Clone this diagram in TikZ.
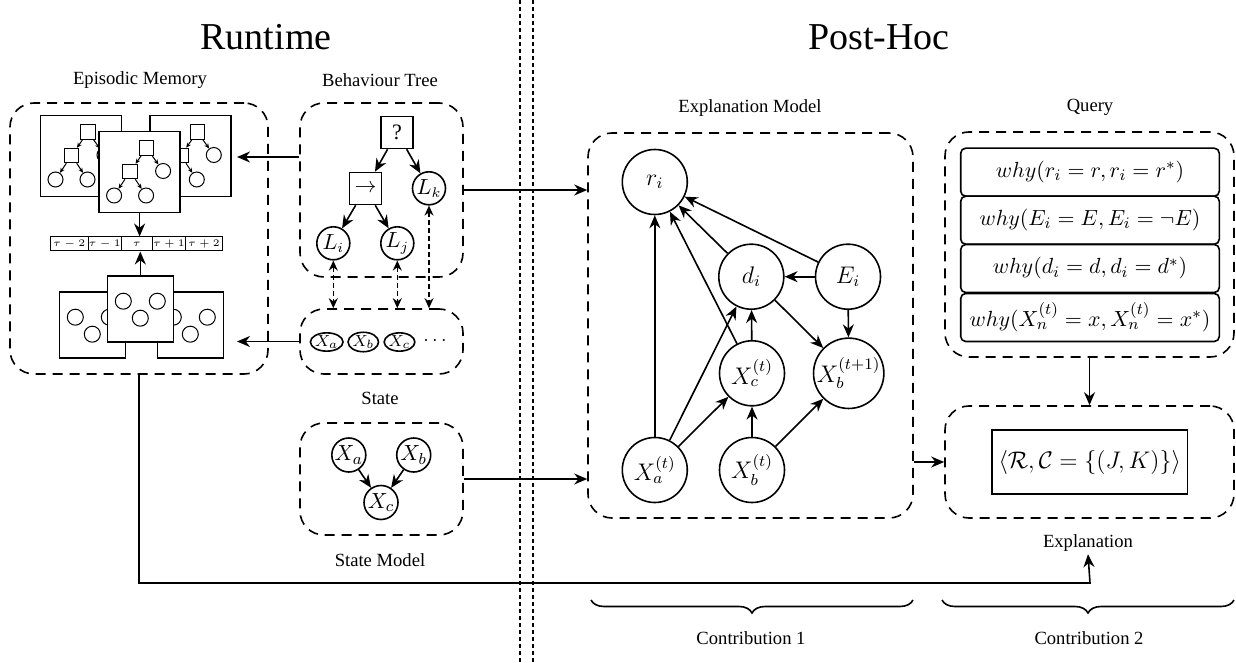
\documentclass[tikz,border=0pt]{standalone}
\usepackage{amsmath, amssymb}
\usepackage{fontspec}
\setmainfont{Liberation Serif}
\usetikzlibrary{arrows.meta, shapes.geometric, fit, decorations.pathreplacing}

\begin{document}
\begin{tikzpicture}
		[x=0.5pt, y=-0.5pt, line width=0.8pt,
		%Styles
		region/.style={draw, dash pattern=on 5pt off 3.5pt, rounded corners=12pt, inner sep=0pt},
		title text/.style={font=\fontsize{19}{22}\selectfont},
		caption text/.style={font=\fontsize{9.3}{11}\selectfont, inner sep=1pt},
		link/.style={-{Stealth[length=6.5pt,width=5.5pt]}},
		bind/.style={{Stealth[length=5pt,width=4.5pt]}-{Stealth[length=5pt,width=4.5pt]}, dash pattern=on 2.5pt off 1.5pt},
		var node/.style={circle, draw, minimum size=32.5pt, inner sep=0pt, font=\fontsize{12}{14}\selectfont},
		leaf node/.style={circle, draw, minimum size=16.5pt, inner sep=0pt, font=\fontsize{10.5}{12}\selectfont},
		control node/.style={rectangle, draw, minimum size=16pt, inner sep=0pt, font=\fontsize{11}{12}\selectfont},
		state var/.style={ellipse, draw, minimum width=15pt, minimum height=9pt, inner sep=0pt, font=\fontsize{8}{9}\selectfont},
		model var/.style={circle, draw, minimum size=17pt, inner sep=0pt, font=\fontsize{11}{13}\selectfont},
		query row/.style={draw, rounded corners=2.5pt, minimum width=129.3pt, minimum height=24pt, inner sep=0pt, font=\fontsize{11}{13}\selectfont},
		snapshot/.style={draw, fill=white, inner sep=0pt},
		time cell/.style={draw, line width=0.5pt, minimum height=7pt, inner sep=0pt, font=\fontsize{5}{6}\selectfont},
		mini box/.style={draw, line width=0.5pt, minimum size=7.25pt, inner sep=0pt},
		mini leaf/.style={circle, draw, line width=0.5pt, minimum size=7.5pt, inner sep=0pt},
		mini link/.style={-{Stealth[length=2.5pt,width=2.2pt]}, line width=0.5pt},
		mini tree/.pic={
			\node[mini box] (root) at (7,-24) {};
			\node[mini box] (seq) at (-9.5,-0.5) {};
			\node[mini leaf] (kid) at (23.5,-1) {};
			\node[mini leaf] (lft) at (-25.5,23.5) {};
			\node[mini leaf] (rgt) at (6.5,23.5) {};
			\draw[mini link] (root) -- (seq);
			\draw[mini link] (root) -- (kid);
			\draw[mini link] (seq) -- (lft);
			\draw[mini link] (seq) -- (rgt);
		},
		state snap/.pic={
			\node[mini leaf, minimum size=8pt] at (-17,-7.5) {};
			\node[mini leaf, minimum size=8pt] at (17,-7.5) {};
			\node[mini leaf, minimum size=8pt] at (0,9.5) {};
		}
		]
		
		\useasboundingbox (0,0) rectangle (1236,663);
		
		%Titles and separator
		\node[title text] (runtime) at (266,37) {Runtime};
		\node[title text] (posthoc) at (879,37) {Post-Hoc};
		\draw[dash pattern=on 2pt off 1.5pt, line width=0.7pt] (520,0) -- (520,663);
		\draw[dash pattern=on 2pt off 1.5pt, line width=0.7pt] (533,0) -- (533,663);
		
		%Regions
		\node[region, fit={(10,103) (268,374)}] (epmem) {};
		\node[region, fit={(300,103) (463,277)}] (bt) {};
		\node[region, fit={(300,309) (463,374)}] (state) {};
		\node[region, fit={(300,423) (463,535)}] (smodel) {};
		\node[region, fit={(588,133) (913,518)}] (xmodel) {};
		\node[region, fit={(945,132) (1234,357)}] (query) {};
		\node[region, fit={(945,406) (1234,518)}] (expl) {};
		
		\node[caption text] (eplbl) at (140,80) {Episodic Memory};
		\node[caption text] (btlbl) at (380,80) {Behaviour Tree};
		\node[caption text] (statelbl) at (380,398) {State};
		\node[caption text] (smlbl) at (380,560) {State Model};
		\node[caption text] (xmlbl) at (750,108) {Explanation Model};
		\node[caption text] (querylbl) at (1090,107) {Query};
		\node[caption text] (expllbl) at (1088,543) {Explanation};
		
		%Episodic memory
		\node[snapshot, minimum size=40.5pt] (bt1) at (81,156) {};
		\pic at (bt1) {mini tree};
		\node[snapshot, minimum size=40.5pt] (bt2) at (190.3,156) {};
		\pic at (bt2) {mini tree};
		\node[snapshot, minimum size=40.5pt] (bt3) at (139.6,172) {};
		\pic at (bt3) {mini tree};
		
		\foreach \cx/\w/\lbl [count=\i] in {69.15/19.15/{\tau-2}, 104.65/16.35/{\tau-1}, 136.85/15.85/{\tau}, 168.85/16.15/{\tau+1}, 203.85/18.85/{\tau+2}}
			\node[time cell, minimum width=\w pt] (cell\i) at (\cx,244) {$\lbl$};
		
		\node[snapshot, minimum size=33pt] (st1) at (92.3,324.7) {};
		\pic at (st1) {state snap};
		\node[snapshot, minimum size=33pt] (st2) at (190.3,324.7) {};
		\pic at (st2) {state snap};
		\node[snapshot, minimum size=33pt] (st3) at (140.3,308.7) {};
		\pic at (st3) {state snap};
		
		\draw[link] (bt3.south) -- (bt3.south |- cell3.north);
		\draw[link] (st3.north) -- (st3.north |- cell3.south);
		
		%Behaviour tree
		\node[control node] (sel) at (397,132.5) {?};
		\node[control node] (seq) at (365.5,188.5) {$\rightarrow$};
		\node[leaf node] (lk) at (429,188.3) {$L_k$};
		\node[leaf node] (li) at (333.3,243.3) {$L_i$};
		\node[leaf node] (lj) at (397.3,243.3) {$L_j$};
		\draw[link] (sel) -- (seq);
		\draw[link] (sel) -- (lk);
		\draw[link] (seq) -- (li);
		\draw[link] (seq) -- (lj);
		
		%State
		\node[state var] (sxa) at (326.7,342) {$X_a$};
		\node[state var] (sxb) at (363.3,342) {$X_b$};
		\node[state var] (sxc) at (399.5,342) {$X_c$};
		\node[font=\fontsize{10}{12}\selectfont] (sdots) at (436.7,341) {$\cdots$};
		\draw[bind] (li) -- (li |- state.north);
		\draw[bind] (lj) -- (lj |- state.north);
		\draw[bind] (lk) -- (lk |- state.north);
		
		%State model
		\node[model var] (mxa) at (348.8,455) {$X_a$};
		\node[model var] (mxb) at (413.7,455) {$X_b$};
		\node[model var] (mxc) at (381,502.5) {$X_c$};
		\draw[link] (mxa) -- (mxc);
		\draw[link] (mxb) -- (mxc);
		
		%Explanation model
		\node[var node] (r) at (654.8,182) {$r_i$};
		\node[var node] (d) at (751.3,276.7) {$d_i$};
		\node[var node] (e) at (848,276.7) {$E_i$};
		\node[var node] (xc) at (752,373.3) {$X_c^{(t)}$};
		\node[var node] (xb1) at (848.7,373.3) {$X_b^{(t+1)}$};
		\node[var node] (xa) at (654.8,470) {$X_a^{(t)}$};
		\node[var node] (xb) at (752,470) {$X_b^{(t)}$};
		\foreach \a/\b in {xa/r, xa/d, xa/xc, xc/r, xc/d, d/r, e/r, e/d, e/xb1, d/xb1, xb/xc, xb/xb1}
			\draw[link] (\a) -- (\b);
		
		%Query and explanation
		\foreach \y/\q [count=\i] in {172.2/{why(r_i=r,r_i=r^*)}, 220.2/{why(E_i=E,E_i=\neg E)}, 268.5/{why(d_i=d,d_i=d^*)}, 317.5/{why(X_n^{(t)}=x,X_n^{(t)}=x^*)}}
			\node[query row] (q\i) at (1090,\y) {$\q$};
		\node[draw, minimum width=97pt, minimum height=32pt, font=\fontsize{11.5}{13}\selectfont] (answer) at (1089.7,462) {$\langle\mathcal{R},\mathcal{C}=\{(J,K)\}\rangle$};
		
		%Connections between parts
		\coordinate (memedge) at (237,157);
		\coordinate (turn) at (1090,583);
		\draw[link] (bt.west |- memedge) -- (memedge);
		\draw[link] (state.west) -- (state.west -| memedge);
		\draw[link] (bt.east) -- (bt.east -| xmodel.west);
		\draw[link] (smodel.east) -- (smodel.east -| xmodel.west);
		\draw[link] (xmodel.east |- expl.west) -- (expl.west);
		\draw[link] (query.south) -- (expl.north);
		\draw[link] (epmem.south) |- (turn) -- (expllbl.south);
		
		%Contributions
		\draw[decorate, decoration={brace, mirror, amplitude=6.5pt}] (591,600) -- (913,600);
		\draw[decorate, decoration={brace, mirror, amplitude=6.5pt}] (942,600) -- (1234,600);
		\node[caption text] (contrib1) at (751,638) {Contribution 1};
		\node[caption text] (contrib2) at (1089,638) {Contribution 2};
		
\end{tikzpicture}
\end{document}
